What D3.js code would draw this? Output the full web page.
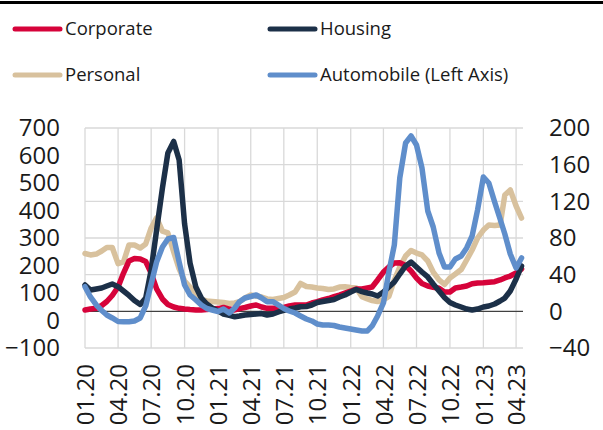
<!DOCTYPE html>
<html>
<head>
<meta charset="utf-8">
<script src="https://cdn.jsdelivr.net/npm/d3@7"></script>
<style>
  body { margin: 0; background: #fff; }
  text { font-family: "Open Sans", sans-serif; fill: #1a1a1a; }
</style>
</head>
<body>
<script>
// semi-monthly observations
var dates = [
  "2020-01-01","2020-01-16","2020-02-01","2020-02-16","2020-03-01","2020-03-16","2020-04-01","2020-04-16",
  "2020-05-01","2020-05-16","2020-06-01","2020-06-16","2020-07-01","2020-07-16","2020-08-01","2020-08-16",
  "2020-09-01","2020-09-16","2020-10-01","2020-10-16","2020-11-01","2020-11-16","2020-12-01","2020-12-16",
  "2021-01-01","2021-01-16","2021-02-01","2021-02-16","2021-03-01","2021-03-16","2021-04-01","2021-04-16",
  "2021-05-01","2021-05-16","2021-06-01","2021-06-16","2021-07-01","2021-07-16","2021-08-01","2021-08-16",
  "2021-09-01","2021-09-16","2021-10-01","2021-10-16","2021-11-01","2021-11-16","2021-12-01","2021-12-16",
  "2022-01-01","2022-01-16","2022-02-01","2022-02-16","2022-03-01","2022-03-16","2022-04-01","2022-04-16",
  "2022-05-01","2022-05-16","2022-06-01","2022-06-16","2022-07-01","2022-07-16","2022-08-01","2022-08-16",
  "2022-09-01","2022-09-16","2022-10-01","2022-10-16","2022-11-01","2022-11-16","2022-12-01","2022-12-16",
  "2023-01-01","2023-01-16","2023-02-01","2023-02-16","2023-03-01","2023-03-16","2023-04-01","2023-04-16"
];

// right axis
var corporate = [
  1.5, 2.5, 3.3, 6.4, 10.7, 17.3, 26.5, 41.8, 54.9, 57.6,
  57.1, 54.4, 41.8, 24.4, 13.5, 7.5, 4.7, 3.3, 2.5, 1.9,
  1.5, 1.5, 1.9, 2.5, 3.0, 4.2, 2.5, 1.5, 3.0, 4.2,
  5.8, 6.9, 4.7, 3.3, 3.3, 3.3, 4.2, 5.8, 6.9, 6.9,
  6.9, 9.1, 10.5, 12.4, 14.0, 16.0, 17.8, 20.0, 22.2, 24.4,
  24.4, 25.5, 26.5, 34.2, 42.9, 48.4, 52.7, 53.1, 50.0, 44.0,
  36.4, 30.4, 27.6, 26.2, 25.1, 21.1, 21.1, 25.5, 26.5, 27.6,
  30.1, 30.9, 31.2, 31.7, 32.3, 34.2, 36.4, 38.5, 41.8, 46.2
];
var housing = [
  28.7, 23.3, 24.4, 25.5, 27.6, 29.8, 26.9, 22.2, 17.3, 11.8,
  7.5, 14.5, 45.1, 88.7, 134.5, 172.7, 185.3, 165.1, 95.3, 52.7,
  26.5, 14.5, 8.0, 3.6, 0.4, -2.9, -4.5, -5.9, -5.1, -4.0,
  -3.5, -2.9, -2.4, -4.0, -2.9, -0.7, 1.0, 2.5, 3.6, 5.0,
  5.3, 6.9, 9.6, 10.7, 11.8, 12.9, 15.6, 17.8, 21.1, 23.8,
  21.6, 20.0, 18.9, 16.7, 21.1, 26.5, 32.0, 40.7, 49.5, 53.8,
  48.4, 42.9, 37.5, 29.8, 22.2, 15.1, 9.6, 6.9, 4.7, 2.5,
  1.5, 2.5, 4.7, 5.8, 8.0, 11.3, 14.5, 22.2, 35.3, 49.5
];
var personal = [
  63.1, 61.5, 62.5, 65.8, 69.6, 69.6, 52, 54, 72.4, 72.4,
  69.1, 73.5, 90.9, 102, 87.6, 85.5, 64.7, 46.2, 33.1, 26.5,
  19.5, 12.9, 11.3, 10.7, 10.2, 9.6, 8.5, 9.1, 10.5, 14.5,
  17.8, 16.7, 15.6, 13.5, 12.9, 14.0, 15.1, 17.8, 21.1, 30.4,
  27.1, 26.5, 25.5, 24.9, 23.8, 24.4, 26.5, 26.9, 26.0, 25.5,
  16.0, 13.5, 11.8, 10.7, 12.4, 16.2, 34.2, 48.4, 60.4, 66.4,
  63.6, 61.5, 54.9, 42.9, 34.2, 29.3, 36.4, 40.7, 45.6, 56.0,
  66.9, 80.0, 88.7, 94.2, 93.6, 94.2, 126.9, 132.4, 114.9, 101.8
];
// left axis
var automobile = [
  123, 85.5, 56.4, 36.4, 20.1, 9.2, -3.6, -4.3, -4.3, -1.7,
  9.2, 52.8, 132.8, 212.8, 267.3, 296.4, 301.9, 212.8, 129.1, 92.8,
  74.6, 56.4, 43.7, 38.2, 32.8, 41.9, 27.3, 45.5, 68.4, 81.9,
  87.3, 92.8, 81.9, 68.4, 68.4, 56.4, 43.7, 34.6, 27.3, 16.4,
  5.5, -1.7, -12.7, -16.3, -16.3, -18.1, -23.6, -27.2, -30.8, -34.5,
  -38.1, -38.1, -19.9, 16.4, 63.7, 176.4, 274.6, 518.2, 645.5, 670.9,
  638.2, 554.6, 398.2, 340, 245.5, 194.6, 194.6, 223.7, 234.6, 263.7,
  307.3, 401.8, 521.8, 500, 430.9, 369.1, 314.6, 241.9, 191, 227.3
];

var seriesNames = ["Corporate", "Housing", "Personal", "Automobile (Left Axis)"];
var xTickLabels = ["01.20","04.20","07.20","10.20","01.21","04.21","07.21",
                   "10.21","01.22","04.22","07.22","10.22","01.23","04.23"];
var leftTicks = [-100, 0, 100, 200, 300, 400, 500, 600, 700];
var rightTicks = [-40, 0, 40, 80, 120, 160, 200];

var width = 603, height = 430;
var plotL = 85, plotR = 523, plotT = 128, plotB = 348;

var parseDay = d3.timeParse("%Y-%m-%d");
var parseTick = d3.timeParse("%m.%y");
var days = dates.map(parseDay);

var svg = d3.select("body").append("svg")
    .attr("width", width)
    .attr("height", height);

var x = d3.scaleTime()
    .domain([parseDay("2020-01-01"), parseDay("2023-04-20")])
    .range([plotL, plotR]);
var yLeft = d3.scaleLinear().domain([-100, 700]).range([plotB, plotT]);
var yRight = d3.scaleLinear().domain([-40, 200]).range([plotB, plotT]);

// top rule
svg.append("rect")
    .attr("x", 0).attr("y", 1)
    .attr("width", width).attr("height", 3)
    .attr("fill", "#000");

// grid
svg.append("g").selectAll("line")
    .data(rightTicks)
    .enter().append("line")
    .attr("x1", plotL).attr("x2", plotR)
    .attr("y1", function(d) { return yRight(d); })
    .attr("y2", function(d) { return yRight(d); })
    .attr("stroke", "#d9d9d9")
    .attr("stroke-width", 1.3);

var tickDates = xTickLabels.map(parseTick);
svg.append("g").selectAll("line")
    .data(tickDates)
    .enter().append("line")
    .attr("x1", function(d) { return x(d); })
    .attr("x2", function(d) { return x(d); })
    .attr("y1", plotT).attr("y2", plotB)
    .attr("stroke", "#d9d9d9")
    .attr("stroke-width", 1.3);

// zero line
svg.append("line")
    .attr("x1", plotL).attr("x2", plotR)
    .attr("y1", yRight(0)).attr("y2", yRight(0))
    .attr("stroke", "#222")
    .attr("stroke-width", 1);

// axes
var gl = svg.append("g")
    .attr("transform", "translate(60,0)")
    .call(d3.axisLeft(yLeft).tickValues(leftTicks).tickSize(0).tickPadding(0));
gl.select(".domain").remove();
gl.selectAll("text").style("font-size", "24px").attr("fill", "#1a1a1a");

var gr = svg.append("g")
    .attr("transform", "translate(549,0)")
    .call(d3.axisRight(yRight).tickValues(rightTicks).tickSize(0).tickPadding(0));
gr.select(".domain").remove();
gr.selectAll("text").style("font-size", "24px").attr("fill", "#1a1a1a");

var gx = svg.append("g")
    .attr("transform", "translate(0," + plotB + ")")
    .call(d3.axisBottom(x).tickValues(tickDates).tickSize(0)
      .tickFormat(function(d, i) { return xTickLabels[i]; }));
gx.select(".domain").remove();
gx.selectAll("text")
    .style("font-size", "24px")
    .attr("fill", "#1a1a1a")
    .attr("transform", "rotate(-90)")
    .attr("text-anchor", "end")
    .attr("x", -16)
    .attr("y", 0)
    .attr("dy", "0.36em");

// lines
var colors = ["#d6033a", "#1c3048", "#d8c19d", "#5f8ecb"];
var lineRight = d3.line()
    .x(function(d, i) { return x(days[i]); })
    .y(function(d) { return yRight(d); });
var lineLeft = d3.line()
    .x(function(d, i) { return x(days[i]); })
    .y(function(d) { return yLeft(d); });

var order = [
  {values: personal, color: colors[2], line: lineRight},
  {values: corporate, color: colors[0], line: lineRight},
  {values: housing, color: colors[1], line: lineRight},
  {values: automobile, color: colors[3], line: lineLeft}
];
order.forEach(function(s) {
  svg.append("path")
      .datum(s.values)
      .attr("d", s.line)
      .attr("fill", "none")
      .attr("stroke", s.color)
      .attr("stroke-width", 5.5)
      .attr("stroke-linejoin", "round")
      .attr("stroke-linecap", "round");
});

// legend
var legendPos = [[13, 29], [268, 29], [13, 75], [268, 75]];
seriesNames.forEach(function(name, i) {
  var g = svg.append("g")
      .attr("transform", "translate(" + legendPos[i][0] + "," + legendPos[i][1] + ")");
  g.append("line")
      .attr("x1", 2).attr("x2", 47)
      .attr("stroke", colors[i])
      .attr("stroke-width", 5)
      .attr("stroke-linecap", "round");
  g.append("text")
      .attr("x", 52)
      .attr("dy", "0.35em")
      .style("font-size", "18.5px")
      .text(name);
});
</script>
</body>
</html>
